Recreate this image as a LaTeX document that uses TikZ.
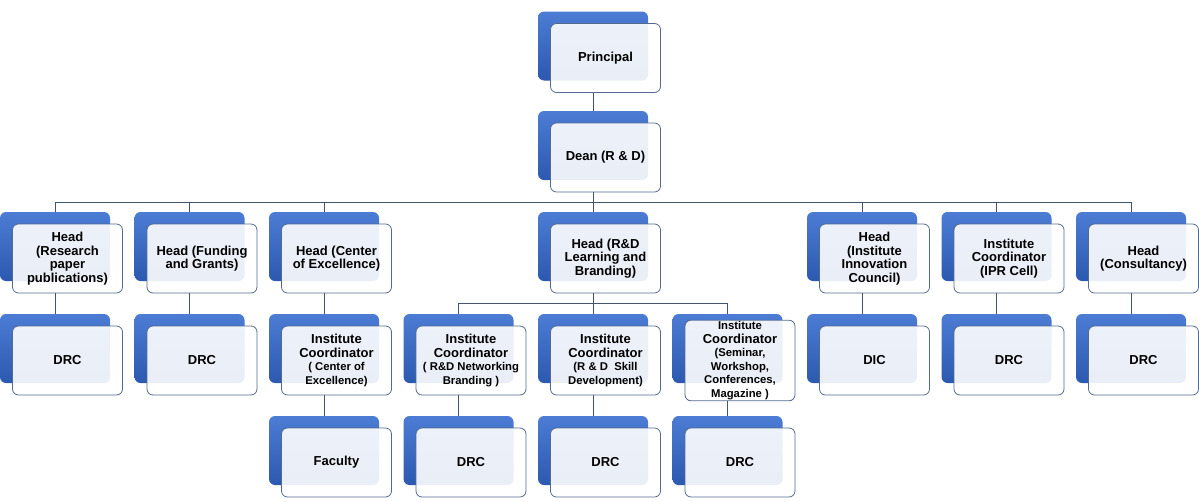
\documentclass[tikz,border=0pt]{standalone}
\usepackage{fontspec}
\setmainfont{Liberation Sans}
\usetikzlibrary{positioning}

\definecolor{backtop}{HTML}{4C7CD4}
\definecolor{backbot}{HTML}{2C59B0}
\definecolor{frontline}{HTML}{556B8E}
\definecolor{connline}{HTML}{44546A}

\newcommand\subtxt{\fontsize{11.3}{11.8}\selectfont}
% one box of the chart: blue card behind, light card in front
\newcommand\orgpair[4]{%
  \node[backcard] (#1) at (#2,#3) {};
  \node[frontcard] (#1-f) at ([xshift=12.5pt,yshift=-12pt]#1.center) {#4};}

\begin{document}
\begin{tikzpicture}[x=1pt,y=-1pt,
  backcard/.style={rectangle,rounded corners=6pt,minimum width=110pt,minimum height=69pt,
    top color=backtop,bottom color=backbot,draw=none},
  frontcard/.style={rectangle,rounded corners=6pt,minimum width=110pt,minimum height=69pt,
    draw=frontline,line width=0.8pt,fill=white,fill opacity=0.9,text opacity=1,
    align=center,inner sep=1pt,font=\bfseries\fontsize{13}{13.6}\selectfont},
  conn/.style={draw=connline,line width=0.8pt}
]
\useasboundingbox (0,0) rectangle (1199,501);

% top
\orgpair{p}{593}{46}{Principal}
\orgpair{d}{593}{145.5}{Dean (R \& D)}

% heads
\orgpair{h0}{55}{246.5}{Head\\(Research\\paper\\publications)}
\orgpair{h1}{189.5}{246.5}{Head (Funding\\and Grants)}
\orgpair{h2}{324}{246.5}{Head (Center\\of Excellence)}
\orgpair{h4}{593}{246.5}{Head (R\&D\\Learning and\\Branding)}
\orgpair{h6}{862}{246.5}{Head\\(Institute\\Innovation\\Council)}
\orgpair{h7}{996.5}{246.5}{Institute\\Coordinator\\(IPR Cell)}
\orgpair{h8}{1131}{246.5}{Head\\(Consultancy)}

% third row
\orgpair{r0}{55}{348.5}{DRC}
\orgpair{r1}{189.5}{348.5}{DRC}
\orgpair{r2}{324}{348.5}{Institute\\Coordinator\\\subtxt ( Center of\\\subtxt Excellence)}
\orgpair{r3}{458.5}{348.5}{Institute\\Coordinator\\\subtxt ( R\&D Networking\\\subtxt Branding )}
\orgpair{r4}{593}{348.5}{Institute\\Coordinator\\\subtxt (R \& D~~Skill\\\subtxt Development)}
\orgpair{r5}{727.5}{348.5}{\subtxt Institute\\Coordinator\\\subtxt (Seminar,\\\subtxt Workshop,\\\subtxt Conferences,\\\subtxt Magazine )}
\orgpair{r6}{862}{348.5}{DIC}
\orgpair{r7}{996.5}{348.5}{DRC}
\orgpair{r8}{1131}{348.5}{DRC}

% bottom row
\orgpair{q2}{324}{450.5}{Faculty}
\orgpair{q3}{458.5}{450.5}{DRC}
\orgpair{q4}{593}{450.5}{DRC}
\orgpair{q5}{727.5}{450.5}{DRC}

% connectors
\draw[conn] (p |- p-f.south) -- (d.north);
\draw[conn] (d |- d-f.south) -- ++(0,10) coordinate (bus1);
\draw[conn] (bus1 -| h0) -- (bus1 -| h8);
\foreach \h in {h0,h1,h2,h4,h6,h7,h8}
  \draw[conn] (bus1 -| \h) -- (\h.north);
\draw[conn] (h4 |- h4-f.south) -- ++(0,10) coordinate (bus2);
\draw[conn] (bus2 -| r3) -- (bus2 -| r5);
\foreach \r in {r3,r4,r5}
  \draw[conn] (bus2 -| \r) -- (\r.north);
\foreach \a/\b in {h0/r0,h1/r1,h2/r2,h6/r6,h7/r7,h8/r8,r2/q2,r3/q3,r4/q4,r5/q5}
  \draw[conn] (\a |- \a-f.south) -- (\b.north);
\end{tikzpicture}
\end{document}
